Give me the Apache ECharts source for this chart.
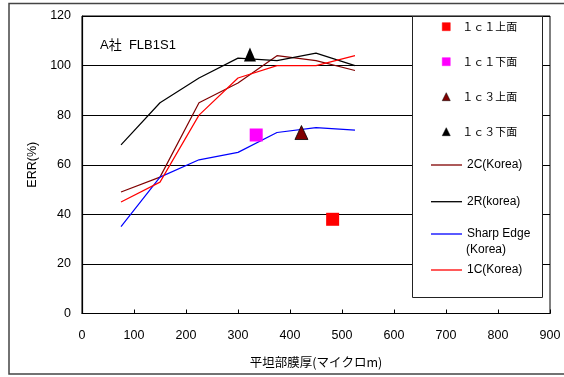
<!DOCTYPE html>
<html>
<head>
<meta charset="utf-8">
<script src="https://cdn.jsdelivr.net/npm/echarts@6/dist/echarts.min.js"></script>
<style>
  html, body { margin: 0; padding: 0; background: #fff; }
  #chart { width: 564px; height: 377px; }
</style>
</head>
<body>
<div id="chart"></div>
<script>
// Flat-section film thickness (micrometres) for the Korea reference curves
const thickness = [75, 150, 225, 300, 375, 450, 525];
const err2C = [49, 55, 85, 93, 104, 102, 98];
const err2R = [68, 85, 95, 103, 102, 105, 100];
const errSharpEdge = [35, 55, 62, 65, 73, 75, 74];
const err1C = [45, 53, 80, 95, 100, 100, 104];

// Individual measured samples: [thickness, ERR]
const top1c1 = [[482, 38]];
const bottom1c1 = [[335, 72]];
const top1c3 = [[422, 73]];
const bottom1c3 = [[323, 104.5]];

const xTicks = { min: 0, max: 900, step: 100 };
const yTicks = { min: 0, max: 120, step: 20 };

const FONT = "'Liberation Sans', Arial, 'Noto Sans CJK JP', sans-serif";
const CJK = "'Noto Sans CJK JP', 'Liberation Sans', sans-serif";

const pairs = (xs, ys) => xs.map((x, i) => [x, ys[i]]);

const chart = echarts.init(document.getElementById('chart'), null, { renderer: 'canvas' });

function lineSeries(name, color, ys) {
  return {
    name, type: 'line', data: pairs(thickness, ys),
    symbol: 'none', showSymbol: false, smooth: false,
    lineStyle: { color, width: 1.2 }, itemStyle: { color },
    z: 3
  };
}

function markerSeries(name, data, symbol, size, color, border) {
  return {
    name, type: 'scatter', data, symbol, symbolSize: size,
    itemStyle: { color, borderColor: border || color, borderWidth: border ? 0.8 : 0, opacity: 1 },
    z: 4
  };
}

// One legend block per entry so each key row can sit at its own height
function markerLegend(name, icon, centerY, size) {
  const s = size || 8;
  return {
    data: [{ name, icon }], left: 446 - s / 2, top: centerY - 8, orient: 'vertical', padding: 0,
    itemWidth: s, itemHeight: s, selectedMode: false, z: 6,
    itemStyle: { borderWidth: 0.5 },
    textStyle: { fontFamily: CJK, fontSize: 11, color: '#000', lineHeight: 16, padding: [0, 0, 0, 11 - s / 2] }
  };
}
function lineLegend(name, centerY, formatter) {
  const l = {
    data: [{ name, icon: 'rect' }], left: 431, top: centerY - 8, orient: 'vertical', padding: 0,
    itemWidth: 31, itemHeight: 1.3, selectedMode: false, z: 6,
    textStyle: { fontFamily: FONT, fontSize: 12, color: '#000', lineHeight: 16 }
  };
  if (formatter) l.formatter = formatter;
  return l;
}

const option = {
  backgroundColor: '#fff',
  animation: false,
  textStyle: { fontFamily: FONT },
  grid: { left: 82, top: 16, width: 468, height: 297.5, show: true, borderColor: '#000', borderWidth: 1, backgroundColor: 'transparent' },
  title: {
    text: 'A社  FLB1S1', left: 95, top: 34,
    textStyle: { fontFamily: FONT, fontSize: 13, fontWeight: 'normal', color: '#000' }
  },
  xAxis: {
    type: 'value', min: xTicks.min, max: xTicks.max, interval: xTicks.step,
    name: '平坦部膜厚(マイクロm)', nameLocation: 'middle', nameGap: 42,
    nameTextStyle: { fontFamily: CJK, fontSize: 12.5, color: '#000' },
    axisLine: { show: true, lineStyle: { color: '#000', width: 1.2 } },
    axisTick: { show: true, inside: true, length: 4, lineStyle: { color: '#000' } },
    axisLabel: { color: '#000', fontSize: 12.5, fontFamily: FONT, margin: 16 },
    splitLine: { show: false }
  },
  yAxis: {
    type: 'value', min: yTicks.min, max: yTicks.max, interval: yTicks.step,
    name: 'ERR(%)', nameLocation: 'middle', nameGap: 38, nameRotate: 90,
    nameTextStyle: { fontFamily: FONT, fontSize: 12.5, color: '#000' },
    axisLine: { show: true, lineStyle: { color: '#000', width: 1.2 } },
    axisTick: { show: false },
    axisLabel: { color: '#000', fontSize: 12.5, fontFamily: FONT, margin: 11 },
    splitLine: { show: true, lineStyle: { color: '#000', width: 1 } }
  },
  legend: [
    markerLegend('１ｃ１上面', 'rect', 26.7, 8),
    markerLegend('１ｃ１下面', 'rect', 61.7, 8),
    markerLegend('１ｃ３上面', 'triangle', 96.7, 8),
    markerLegend('１ｃ３下面', 'triangle', 131.7, 8),
    lineLegend('2C(Korea)', 165),
    lineLegend('2R(korea)', 201.7),
    lineLegend('Sharp Edge(Korea)', 234, () => 'Sharp Edge'),
    lineLegend('1C(Korea)', 270)
  ],
  graphic: [
    {
      type: 'rect', z: 2, silent: true,
      shape: { x: 412.5, y: 16.5, width: 130, height: 281 },
      style: { fill: '#fff', stroke: '#222', lineWidth: 1 }
    },
    {
      // second line of the Sharp Edge key entry
      type: 'text', z: 6, silent: true, left: 466, top: 244,
      style: { text: '(Korea)', fill: '#000', font: "12px 'Liberation Sans', Arial, sans-serif" }
    },
    {
      type: 'rect', z: 10, silent: true,
      shape: { x: 9, y: 3.5, width: 600, height: 370.5 },
      style: { fill: 'none', stroke: '#444', lineWidth: 1.5 }
    }
  ],
  series: [
    markerSeries('１ｃ１上面', top1c1, 'rect', 13, '#ff0000'),
    markerSeries('１ｃ１下面', bottom1c1, 'rect', 13, '#ff00ff'),
    markerSeries('１ｃ３上面', top1c3, 'triangle', [13, 14], '#800000', '#000'),
    markerSeries('１ｃ３下面', bottom1c3, 'triangle', [12, 14], '#000000'),
    lineSeries('2C(Korea)', '#800000', err2C),
    lineSeries('2R(korea)', '#000000', err2R),
    lineSeries('Sharp Edge(Korea)', '#0000ff', errSharpEdge),
    lineSeries('1C(Korea)', '#ff0000', err1C)
  ]
};

chart.setOption(option);
</script>
</body>
</html>
